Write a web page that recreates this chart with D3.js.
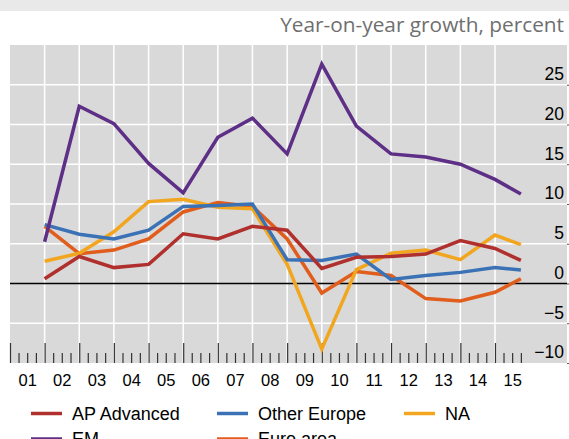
<!DOCTYPE html>
<html>
<head>
<meta charset="utf-8">
<script src="https://cdn.jsdelivr.net/npm/d3@7"></script>
<style>
  html, body { margin: 0; padding: 0; background: #fff; }
  svg { display: block; font-family: Arial, "Liberation Sans", sans-serif; }
</style>
</head>
<body>
<div id="chart"></div>
<script>
/*
** Data
*/
var quarters = ["2001Q4", "2002Q4", "2003Q4", "2004Q4", "2005Q4", "2006Q4", "2007Q4"
      , "2008Q4", "2009Q4", "2010Q4", "2011Q4", "2012Q4", "2013Q4", "2014Q4", "2015Q3"]
  , yearLabels = ["01", "02", "03", "04", "05", "06", "07", "08", "09", "10", "11", "12", "13", "14", "15"]
  , yTicks = [-10, -5, 0, 5, 10, 15, 20, 25]
  , apAdvanced  = [0.6, 3.4, 2.0, 2.4, 6.25, 5.6, 7.2, 6.7, 1.9, 3.3, 3.4, 3.7, 5.4, 4.4, 2.9]
  , em          = [5.25, 22.3, 20.1, 15.1, 11.4, 18.4, 20.8, 16.3, 27.6, 19.8, 16.3, 15.9, 15.0, 13.1, 11.25]
  , otherEurope = [7.4, 6.2, 5.6, 6.7, 9.7, 9.8, 10.0, 3.0, 2.9, 3.7, 0.5, 1.0, 1.4, 2.0, 1.7]
  , na          = [2.8, 3.8, 6.5, 10.3, 10.6, 9.6, 9.4, 2.4, -8.25, 1.75, 3.8, 4.2, 3.0, 6.1, 4.9]
  , euroArea    = [7.2, 3.75, 4.2, 5.6, 9.0, 10.2, 9.7, 5.6, -1.2, 1.5, 1.0, -1.9, -2.2, -1.1, 0.6]
;

// drawing order, bottom to top
var series = [
      { name: "Euro area",    values: euroArea,    color: "#e05d1c" }
    , { name: "NA",           values: na,          color: "#f2a61f" }
    , { name: "Other Europe", values: otherEurope, color: "#3a72b5" }
    , { name: "AP Advanced",  values: apAdvanced,  color: "#b0302e" }
    , { name: "EM",           values: em,          color: "#5e2f86" }
  ]
  , legendRows = [
      ["AP Advanced", "Other Europe", "NA"]
    , ["EM", "Euro area"]
  ]
;

/*
** Helpers
*/
function quarterEnd(q) {
    var yr = +q.slice(0, 4), n = +q.slice(5);
    return new Date(yr, n * 3, 1);
}
function colorOf(name) {
    return series.filter(function(s) { return s.name === name; })[0].color;
}

/*
** Chart
*/
var width = 569
  , height = 439
  , plot = { left: 10, right: 567, top: 45, bottom: 363 }
;

var svg = d3.select("#chart").append("svg")
    .attr("width", width)
    .attr("height", height)
;

var x = d3.scaleTime()
    .domain([new Date(2001, 0, 1), new Date(2016, 0, 1)])
    .range([plot.left, plot.left + 15 * 34.64])
;
var y = d3.scaleLinear()
    .domain([-10, 30])
    .range([plot.bottom, plot.top])
;

// top band + title
svg.append("rect")
    .attr("width", width)
    .attr("height", 11)
    .attr("fill", "#e9e9e9")
;
var title = svg.append("text")
    .attr("x", 564)
    .attr("y", 32)
    .attr("text-anchor", "end")
    .attr("fill", "#6f6f6f")
    .style("font-family", "'Open Sans', sans-serif")
    .style("font-size", "19px")
    .text("Year-on-year growth, percent")
;
var tw = title.node().getComputedTextLength();
title.style("font-size", (19 * 284 / tw).toFixed(2) + "px");

// plot background
svg.append("rect")
    .attr("x", plot.left)
    .attr("y", plot.top)
    .attr("width", plot.right - plot.left)
    .attr("height", plot.bottom - plot.top)
    .attr("fill", "#d9d9d9")
;

// grid
var yearEdges = d3.range(2002, 2016).map(function(yr) { return new Date(yr, 0, 1); });
svg.append("g")
    .attr("class", "grid-x")
  .selectAll("line")
    .data(yearEdges)
  .enter().append("line")
    .attr("x1", function(d) { return x(d); })
    .attr("x2", function(d) { return x(d); })
    .attr("y1", plot.top)
    .attr("y2", plot.bottom)
    .attr("stroke", "#fff")
    .attr("stroke-width", 1.5)
;
svg.append("g")
    .attr("class", "grid-y")
  .selectAll("line")
    .data(yTicks.filter(function(v) { return v !== 0 && v !== -10; }))
  .enter().append("line")
    .attr("x1", plot.left)
    .attr("x2", plot.right)
    .attr("y1", function(d) { return y(d); })
    .attr("y2", function(d) { return y(d); })
    .attr("stroke", "#fff")
    .attr("stroke-width", 1.5)
;

// quarterly ticks along the bottom
var quarterTicks = d3.timeMonth.every(3).range(new Date(2001, 0, 1), new Date(2015, 10, 1));
var tickAxis = d3.axisBottom(x)
    .tickValues(quarterTicks)
    .tickSizeInner(-10)
    .tickSizeOuter(0)
    .tickFormat("")
;
var ticksG = svg.append("g")
    .attr("transform", "translate(0," + plot.bottom + ")")
    .call(tickAxis)
;
ticksG.select(".domain").remove();
ticksG.selectAll(".tick line")
    .attr("stroke", "#333")
    .attr("stroke-width", 1.2)
    .attr("y2", function(d) { return d.getMonth() === 0 ? -20 : -10; })
;

// year labels, centred in each year
var labelAxis = d3.axisBottom(x)
    .tickValues(d3.range(2001, 2016).map(function(yr) { return new Date(yr, 6, 1); }))
    .tickSize(0)
    .tickPadding(11)
    .tickFormat(function(d, i) { return yearLabels[i]; })
;
var labelsG = svg.append("g")
    .attr("transform", "translate(0," + plot.bottom + ")")
    .call(labelAxis)
;
labelsG.select(".domain").remove();
labelsG.selectAll("text")
    .attr("fill", "#000")
    .style("font-size", "16.5px")
    .style("font-family", "Arial, 'Liberation Sans', sans-serif")
;

// y axis labels on the right, inside the plot
var yAxis = d3.axisLeft(y)
    .tickValues(yTicks)
    .tickSizeInner(-2)
    .tickSizeOuter(0)
    .tickPadding(3)
;
var yG = svg.append("g")
    .attr("transform", "translate(" + plot.right + ",0)")
    .call(yAxis)
;
yG.select(".domain").remove();
yG.selectAll(".tick line").attr("stroke", "#555");
yG.selectAll("text")
    .attr("dy", "-0.3em")
    .attr("fill", "#000")
    .style("font-size", "17.5px")
    .style("font-family", "Arial, 'Liberation Sans', sans-serif")
;

// zero line
svg.append("line")
    .attr("x1", plot.left)
    .attr("x2", plot.right)
    .attr("y1", y(0))
    .attr("y2", y(0))
    .attr("stroke", "#000")
    .attr("stroke-width", 1.5)
;

// series lines
var line = d3.line()
    .x(function(d) { return x(d.date); })
    .y(function(d) { return y(d.value); })
;
svg.append("g")
    .attr("class", "series")
  .selectAll("path")
    .data(series)
  .enter().append("path")
    .attr("d", function(s) {
        return line(s.values.map(function(v, i) {
            return { date: quarterEnd(quarters[i]), value: v };
        }));
      })
    .attr("fill", "none")
    .attr("stroke", function(s) { return s.color; })
    .attr("stroke-width", 3.5)
;

// legend
var legendCols = [31, 217, 404]
  , legendRowY = [413.5, 439]
;
legendRows.forEach(function(row, r) {
    row.forEach(function(name, c) {
        var g = svg.append("g")
            .attr("transform", "translate(" + legendCols[c] + "," + legendRowY[r] + ")");
        g.append("line")
            .attr("x1", 0)
            .attr("x2", 31)
            .attr("stroke", colorOf(name))
            .attr("stroke-width", 3.5);
        g.append("text")
            .attr("x", 41)
            .attr("dy", "0.35em")
            .style("font-size", "18px")
            .attr("fill", "#000")
            .text(name);
    });
});
</script>
</body>
</html>
